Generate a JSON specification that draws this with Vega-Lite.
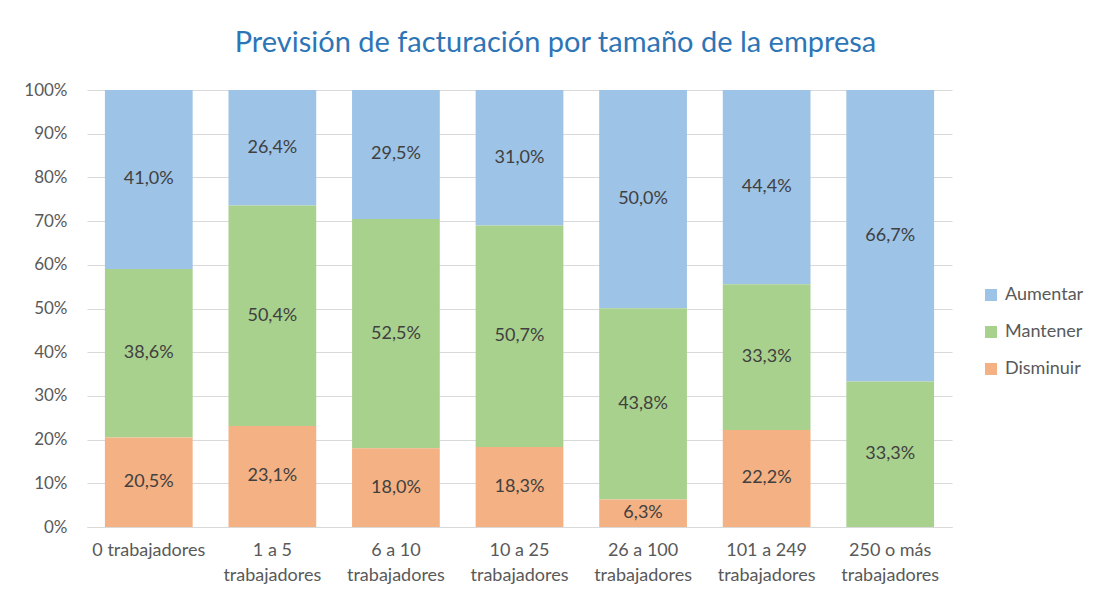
{
  "$schema": "https://vega.github.io/schema/vega-lite/v6.json",
  "width": 865,
  "height": 437,
  "autosize": "none",
  "padding": {"left": 87, "top": 90, "right": 144, "bottom": 72},
  "background": "white",
  "config": {
    "font": "Lato",
    "view": {"stroke": null},
    "locale": {"number": {"decimal": ",", "thousands": ".", "grouping": [3], "currency": ["", " €"]}}
  },
  "title": {
    "text": "Previsión de facturación por tamaño de la empresa",
    "font": "Lato",
    "fontSize": 29,
    "fontWeight": "normal",
    "color": "#2E75B6",
    "anchor": "middle",
    "dx": 36,
    "baseline": "alphabetic",
    "offset": 0
  },
  "data": {
    "values": [
      {"cat": "0 trabajadores", "serie": "Aumentar", "value": 0.410, "ord": 3},
      {"cat": "0 trabajadores", "serie": "Mantener", "value": 0.386, "ord": 2},
      {"cat": "0 trabajadores", "serie": "Disminuir", "value": 0.205, "ord": 1},
      {"cat": "1 a 5 trabajadores", "serie": "Aumentar", "value": 0.264, "ord": 3},
      {"cat": "1 a 5 trabajadores", "serie": "Mantener", "value": 0.504, "ord": 2},
      {"cat": "1 a 5 trabajadores", "serie": "Disminuir", "value": 0.231, "ord": 1},
      {"cat": "6 a 10 trabajadores", "serie": "Aumentar", "value": 0.295, "ord": 3},
      {"cat": "6 a 10 trabajadores", "serie": "Mantener", "value": 0.525, "ord": 2},
      {"cat": "6 a 10 trabajadores", "serie": "Disminuir", "value": 0.180, "ord": 1},
      {"cat": "10 a 25 trabajadores", "serie": "Aumentar", "value": 0.310, "ord": 3},
      {"cat": "10 a 25 trabajadores", "serie": "Mantener", "value": 0.507, "ord": 2},
      {"cat": "10 a 25 trabajadores", "serie": "Disminuir", "value": 0.183, "ord": 1},
      {"cat": "26 a 100 trabajadores", "serie": "Aumentar", "value": 0.500, "ord": 3},
      {"cat": "26 a 100 trabajadores", "serie": "Mantener", "value": 0.438, "ord": 2},
      {"cat": "26 a 100 trabajadores", "serie": "Disminuir", "value": 0.063, "ord": 1},
      {"cat": "101 a 249 trabajadores", "serie": "Aumentar", "value": 0.444, "ord": 3},
      {"cat": "101 a 249 trabajadores", "serie": "Mantener", "value": 0.333, "ord": 2},
      {"cat": "101 a 249 trabajadores", "serie": "Disminuir", "value": 0.222, "ord": 1},
      {"cat": "250 o más trabajadores", "serie": "Aumentar", "value": 0.667, "ord": 3},
      {"cat": "250 o más trabajadores", "serie": "Mantener", "value": 0.333, "ord": 2},
      {"cat": "250 o más trabajadores", "serie": "Disminuir", "value": 0.0, "ord": 1}
    ]
  },
  "transform": [
    {"stack": "value", "groupby": ["cat"], "offset": "normalize", "sort": [{"field": "ord", "order": "ascending"}], "as": ["y0", "y1"]},
    {"calculate": "(datum.y0 + datum.y1) / 2", "as": "ymid"}
  ],
  "encoding": {
    "x": {
      "field": "cat",
      "type": "nominal",
      "sort": null,
      "scale": {"paddingInner": 0.29, "paddingOuter": 0.145},
      "axis": {
        "title": null,
        "labelAngle": 0,
        "labelExpr": "datum.label == '0 trabajadores' ? datum.label : [replace(datum.label, ' trabajadores', ''), 'trabajadores']",
        "labelFont": "Lato",
        "labelFontSize": 18,
        "labelColor": "#595959",
        "labelPadding": 14,
        "labelLineHeight": 25,
        "labelBaseline": "top",
        "ticks": false,
        "domainColor": "#D9D9D9",
        "domainWidth": 1
      }
    }
  },
  "layer": [
    {
      "mark": {"type": "bar"},
      "encoding": {
        "y": {
          "field": "y0",
          "type": "quantitative",
          "scale": {"domain": [0, 1], "nice": false},
          "axis": {
            "title": null,
            "format": ".0%",
            "values": [0, 0.1, 0.2, 0.3, 0.4, 0.5, 0.6, 0.7, 0.8, 0.9, 1],
            "labelFont": "Lato",
            "labelFontSize": 17,
            "labelColor": "#595959",
            "labelPadding": 20,
            "ticks": false,
            "domain": false,
            "gridColor": "#D9D9D9",
            "gridWidth": 1
          }
        },
        "y2": {"field": "y1"},
        "color": {
          "field": "serie",
          "type": "nominal",
          "scale": {"domain": ["Aumentar", "Mantener", "Disminuir"], "range": ["#9DC3E6", "#A9D18E", "#F4B183"]},
          "legend": {
            "title": null,
            "orient": "none",
            "legendX": 895,
            "legendY": 196,
            "symbolType": "square",
            "symbolSize": 144,
            "symbolStrokeWidth": 0,
            "labelFont": "Lato",
            "labelFontSize": 18,
            "labelColor": "#595959",
            "labelOffset": 5,
            "rowPadding": 19
          }
        }
      }
    },
    {
      "transform": [{"filter": "datum.value > 0"}],
      "mark": {"type": "text", "font": "Lato", "fontSize": 18, "color": "#404040", "baseline": "middle"},
      "encoding": {
        "y": {"field": "ymid", "type": "quantitative"},
        "text": {"field": "value", "type": "quantitative", "format": ".1%"}
      }
    }
  ]
}
